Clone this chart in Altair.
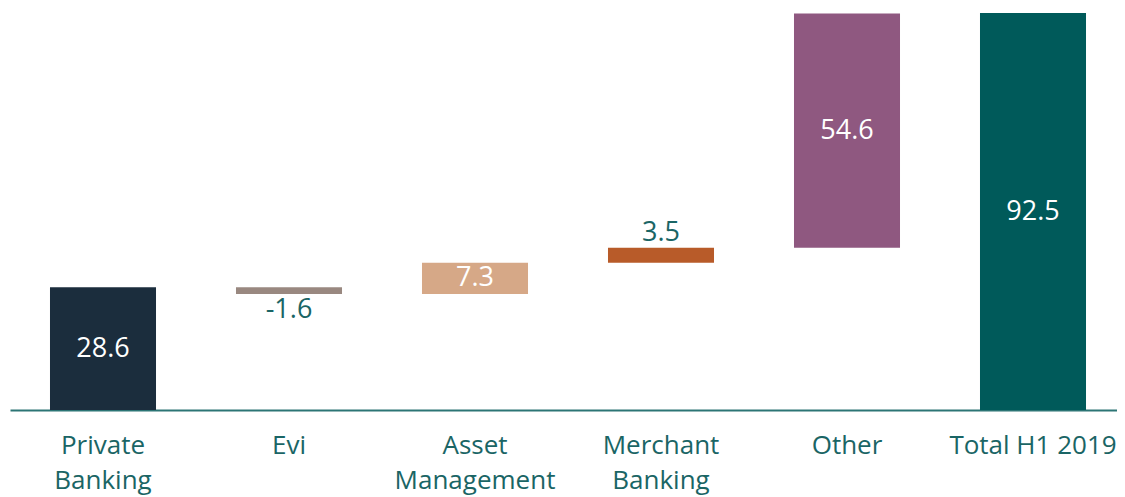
import altair as alt
import pandas as pd

categories = ["Private Banking", "Evi", "Asset Management", "Merchant Banking", "Other", "Total H1 2019"]
values = [28.6, -1.6, 7.3, 3.5, 54.6, 92.5]
is_total = [False, False, False, False, False, True]
colors = ["#1b2d3d", "#998880", "#d6a887", "#b85b29", "#8f5880", "#005a5a"]

rows = []
running = 0.0
for cat, v, tot in zip(categories, values, is_total):
    if tot:
        start, end = 0.0, v
        running = v
    else:
        start, end = running, running + v
        running = end
    rows.append({"cat": cat, "value": v, "label": f"{v:.1f}", "start": start, "end": end,
                 "mid": (start + end) / 2, "top": max(start, end), "bottom": min(start, end)})
df = pd.DataFrame(rows)

FONT = "Open Sans"
TEAL = "#1a6565"
FS = 27

x = alt.X("cat:N", sort=categories, title=None,
          scale=alt.Scale(paddingInner=0.43, paddingOuter=0.215, range=[0, 1116]),
          axis=alt.Axis(labelAngle=0, ticks=False, grid=False, domainColor="#2c7575", domainWidth=2,
                        labelFont=FONT, labelFontSize=26, labelColor=TEAL, labelPadding=22,
                        labelLineHeight=35, labelBaseline="top", labelFlush=False, labelOverlap=False,
                        labelExpr="datum.value == 'Total H1 2019' ? datum.value : split(datum.value, ' ')"))
yscale = alt.Scale(domain=[0, 92.5], nice=False, zero=True)

base = alt.Chart(df)

bars = base.mark_bar().encode(
    x=x,
    y=alt.Y("start:Q", scale=yscale, axis=None),
    y2="end:Q",
    color=alt.Color("cat:N", scale=alt.Scale(domain=categories, range=colors), legend=None),
)

inside = base.transform_filter("abs(datum.value) >= 5").mark_text(
    font=FONT, fontSize=FS, color="white", baseline="middle").encode(
    x=alt.X("cat:N", sort=categories),
    y=alt.Y("mid:Q", scale=yscale),
    text="label:N",
)

above = base.transform_filter("abs(datum.value) < 5 && datum.value >= 0").mark_text(
    font=FONT, fontSize=FS, color=TEAL, baseline="bottom", dy=-1).encode(
    x=alt.X("cat:N", sort=categories),
    y=alt.Y("top:Q", scale=yscale),
    text="label:N",
)

below = base.transform_filter("abs(datum.value) < 5 && datum.value < 0").mark_text(
    font=FONT, fontSize=FS, color=TEAL, baseline="top", dy=3).encode(
    x=alt.X("cat:N", sort=categories),
    y=alt.Y("bottom:Q", scale=yscale),
    text="label:N",
)

chart = alt.layer(bars, inside, above, below).properties(
    width=1107, height=397,
    padding={"left": 2, "top": 5, "right": 0, "bottom": 90},
    autosize=alt.AutoSizeParams(type="none"),
).configure_view(stroke=None)

chart.save("out.html", embed_options={"renderer": "svg", "actions": False})
